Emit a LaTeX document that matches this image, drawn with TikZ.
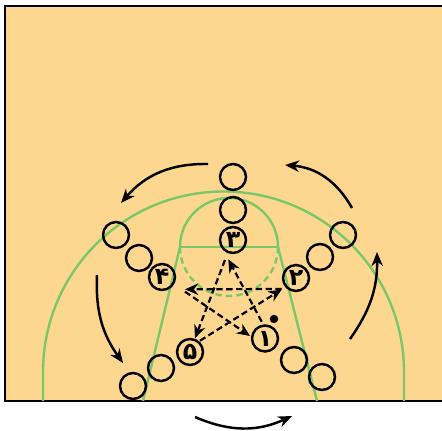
\documentclass[tikz,border=0pt]{standalone}
\usepackage{fontspec}
\usetikzlibrary{arrows.meta}
\newfontfamily\pfont[Script=Arabic]{DejaVu Sans}
\TeXXeTstate=1
\definecolor{court}{RGB}{253,215,143}
\definecolor{paint}{RGB}{122,199,104}

\begin{document}
\begin{tikzpicture}[x=0.02cm, y=-0.02cm,
  line/.style={draw=paint, line width=1.35pt},
  player/.style={circle, draw, line width=1.4pt, minimum size=0.52cm, inner sep=0pt,
    font=\pfont\bfseries\fontsize{13.5}{13.5}\selectfont},
  pass/.style={dash pattern=on 3.6pt off 2pt, line width=1.25pt, -{Stealth[length=7.5pt, width=6.5pt]}},
  move/.style={line width=1.4pt, -{Stealth[length=8pt, width=6.5pt]}}]
\useasboundingbox (0, 0) rectangle (442, 431);

\fill[court] (5, 6) rectangle (442, 401);
\draw[line width=1.5pt] (442, 6) -- (5, 6) -- (5, 401) -- (442, 401);

\draw[line] (43, 401) -- (43, 372) arc[start angle=180, end angle=360, radius=180.5] -- (404, 401);
\draw[line] (180, 247) arc[start angle=180, end angle=360, radius=49];
\draw[line] (180, 247) arc[start angle=180, end angle=0, radius=49][dash pattern=on 3.6pt off 2.4pt];
\draw[line] (180, 247) to (278, 247);
\draw[line] (180, 247) to (143, 401);
\draw[line] (278, 247) to (317, 401);

\node[player] (p3b) at (233, 177) {};
\node[player] (p3a) at (233, 210) {};
\node[player] (p3) at (233, 240) {\beginR ۳\endR};
\node[player] (p4b) at (116, 235) {};
\node[player] (p4a) at (139, 258) {};
\node[player] (p4) at (162, 277) {\beginR ۴\endR};
\node[player] (p2b) at (343, 235) {};
\node[player] (p2a) at (320, 257) {};
\node[player] (p2) at (296, 278) {\beginR ۲\endR};
\node[player] (p5) at (190, 352) {\beginR ۵\endR};
\node[player] (p5a) at (161, 368) {};
\node[player] (p5b) at (133, 386) {};
\node[player] (p1) at (265, 338.5) {\beginR ۱\endR};
\node[player] (p1a) at (294, 360) {};
\node[player] (p1b) at (322, 377) {};
\node[circle, fill, minimum size=0.17cm, inner sep=0pt] (ball) at (274, 319) {};

\draw ([shift={(-14.3, 11)}]p2.center) to ([shift={(23, 12.3)}]p4.center) [pass];
\draw ([shift={(23, 14.7)}]p4.center) to ([shift={(-15, -2.5)}]p1.center) [pass];
\draw ([shift={(-3.3, -16.8)}]p1.center) to ([shift={(-4.7, 19.3)}]p3.center) [pass];
\draw ([shift={(-8, 20)}]p3.center) to ([shift={(5, -13.7)}]p5.center) [pass];
\draw ([shift={(10, -11.3)}]p5.center) to ([shift={(-14.3, 11.5)}]p2.center) [pass];

\coordinate (tl1) at (208, 164);
\coordinate (tl2) at (121, 203);
\coordinate (tr1) at (352, 208);
\coordinate (tr2) at (285, 165);
\coordinate (l1) at (97, 275);
\coordinate (l2) at (123, 363);
\coordinate (r1) at (350, 339);
\coordinate (r2) at (377, 252);
\coordinate (b1) at (195, 417);
\coordinate (b2) at (292, 416);

\draw (tl1) to[bend right=25] (tl2) [move];
\draw (tr1) to[bend right=28] (tr2) [move];
\draw (l1) to[bend right=19] (l2) [move];
\draw (r1) to[bend right=18] (r2) [move];
\draw (b1) to[bend right=24] (b2) [move];

\end{tikzpicture}
\end{document}
